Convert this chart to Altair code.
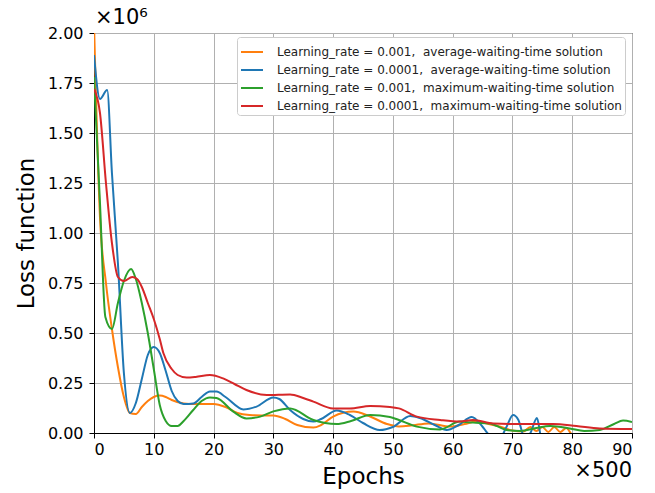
import altair as alt
import pandas as pd

series_names = [
    "Learning_rate = 0.001,\u00a0 average-waiting-time solution",
    "Learning_rate = 0.0001,\u00a0 average-waiting-time solution",
    "Learning_rate = 0.001,\u00a0 maximum-waiting-time solution",
    "Learning_rate = 0.0001,\u00a0 maximum-waiting-time solution",
]
series_colors = ["#ff7f0e", "#1f77b4", "#2ca02c", "#d62728"]

# values in units of 1e6, epochs in units of 500
orange_x = [0, 1, 2, 3, 4, 5, 6, 7, 8, 9, 10, 11, 12, 13, 15, 17, 20, 22, 24, 26, 28, 30, 32, 34, 36.7, 38, 40, 43.4,
            46, 49, 51, 53, 56, 59.6, 62, 64, 66, 68, 70, 71.8, 73, 74, 75, 76, 77, 78, 79, 80, 82, 86, 90]
orange_y = [2.05, 1.08, 0.75, 0.52, 0.33, 0.18, 0.10, 0.095, 0.13, 0.16, 0.18, 0.187, 0.18, 0.165, 0.148, 0.145,
            0.145, 0.13, 0.10, 0.09, 0.088, 0.088, 0.07, 0.04, 0.027, 0.04, 0.082, 0.107, 0.085, 0.045, 0.033, 0.037,
            0.048, 0.032, 0.045, 0.057, 0.045, 0.032, 0.012, 0.007, 0.03, 0.01, 0.03, 0.005, 0.03, 0.005, 0.025,
            -0.01, -0.03, -0.04, -0.04]

blue_x = [0, 1, 2.2, 3, 4, 5, 6, 7, 8, 9, 10, 11, 12, 13, 14, 15, 16.6, 18, 19.4, 20.5, 22, 25, 27.2, 30, 31, 32.8,
          35, 36.7, 38, 40.6, 42.8, 45, 47.8, 50, 52.9, 54.5, 57, 59, 61, 63.2, 64.9, 66.2, 68, 69, 70.1, 71, 72,
          73, 74.1, 74.8, 76, 80, 90]
blue_y = [1.89, 1.67, 1.715, 1.30, 0.85, 0.30, 0.10, 0.15, 0.27, 0.39, 0.43, 0.40, 0.31, 0.21, 0.16, 0.145, 0.148,
          0.18, 0.208, 0.207, 0.18, 0.118, 0.132, 0.178, 0.17, 0.115, 0.07, 0.057, 0.07, 0.112, 0.09, 0.05, 0.015,
          0.03, 0.085, 0.075, 0.04, 0.015, 0.04, 0.08, 0.035, -0.01, -0.02, 0.03, 0.09, 0.065, -0.02, 0.0, 0.075,
          -0.02, -0.05, -0.05, -0.05]

green_x = [0, 1, 1.9, 3, 4, 5, 6.2, 7, 8, 9, 10, 11, 12, 13, 14, 15, 16.6, 18, 19.4, 20.5, 23.3, 25.5, 27.8, 30,
           32.8, 36.7, 40.6, 43, 46.2, 49.5, 51, 54, 57.9, 61.2, 63.4, 66.2, 69, 71.3, 74, 76.3, 79.6, 82, 84.6, 87,
           88.5, 90]
green_y = [1.78, 1.15, 0.58, 0.52, 0.65, 0.76, 0.82, 0.77, 0.65, 0.50, 0.32, 0.14, 0.06, 0.035, 0.035, 0.06, 0.115,
           0.16, 0.178, 0.175, 0.107, 0.073, 0.082, 0.108, 0.123, 0.065, 0.045, 0.06, 0.09, 0.08, 0.065, 0.032,
           0.018, 0.057, 0.052, 0.048, 0.015, 0.01, 0.025, 0.035, 0.023, 0.01, 0.015, 0.045, 0.062, 0.055]

red_x = [0, 1, 2, 3, 4, 5, 6.4, 7.2, 8, 9, 10, 11, 11.6, 13, 14, 15.5, 17, 19.4, 21.6, 23.5, 25.5, 28.9, 32.8, 35,
         36.7, 40, 42.8, 46.2, 49.5, 51, 54, 57.9, 61.2, 63.4, 66.8, 71, 76.8, 80.7, 84.6, 90]
red_y = [1.72, 1.60, 1.25, 0.95, 0.78, 0.76, 0.78, 0.77, 0.73, 0.65, 0.57, 0.47, 0.40, 0.32, 0.29, 0.277, 0.28, 0.29,
         0.273, 0.245, 0.215, 0.19, 0.193, 0.175, 0.157, 0.123, 0.123, 0.135, 0.13, 0.123, 0.082, 0.065, 0.057,
         0.065, 0.048, 0.045, 0.045, 0.035, 0.023, 0.02]

y_ticks = [0, 0.25, 0.5, 0.75, 1.0, 1.25, 1.5, 1.75, 2.0]
x_ticks = [0, 10, 20, 30, 40, 50, 60, 70, 80, 90]

rows = []
for name, xs, ys in zip(series_names, [orange_x, blue_x, green_x, red_x], [orange_y, blue_y, green_y, red_y]):
    for i, (a, b) in enumerate(zip(xs, ys)):
        rows.append({"series": name, "epoch": a, "loss": b, "idx": i})
df = pd.DataFrame(rows)

FONT = "DejaVu Sans"

lines = alt.Chart(df).mark_line(clip=True, interpolate="monotone", strokeWidth=2).encode(
    x=alt.X("epoch:Q", scale=alt.Scale(domain=[0, 90], nice=False, zero=False),
            axis=alt.Axis(values=x_ticks, title="Epochs", titleFontSize=23, titleFontWeight="normal",
                          titlePadding=8, labelFontSize=16, labelPadding=3)),
    y=alt.Y("loss:Q", scale=alt.Scale(domain=[0, 2.0], nice=False),
            axis=alt.Axis(values=y_ticks, format=".2f", title="Loss function", titleFontSize=23,
                          titleFontWeight="normal", titlePadding=9, labelFontSize=16, labelPadding=6)),
    color=alt.Color("series:N", scale=alt.Scale(domain=series_names, range=series_colors),
                    sort=series_names,
                    legend=alt.Legend(title=None, orient="none", legendX=143, legendY=4,
                                      symbolType="stroke", symbolSize=484, symbolStrokeWidth=2,
                                      labelFontSize=12, labelFont=FONT, labelLimit=0, rowPadding=-3,
                                      labelColor="#222222",
                                      fillColor="white", strokeColor="#cccccc", padding=3,
                                      cornerRadius=3, labelOffset=13)),
    order=alt.Order("idx:Q"),
)

mult = alt.Chart(pd.DataFrame({"t": ["×500"]})).mark_text(
    align="right", baseline="middle", fontSize=21, font=FONT, dy=38, color="black"
).encode(x=alt.datum(90), y=alt.datum(0), text="t:N")

scale_txt = alt.Chart(pd.DataFrame({"t": ["×10⁶"]})).mark_text(
    align="left", baseline="middle", fontSize=21, font=FONT, dy=-15, dx=1, color="black"
).encode(x=alt.datum(0), y=alt.datum(2.0), text="t:N")

chart = alt.layer(lines, mult, scale_txt).properties(
    width=538, height=400,
    autosize=alt.AutoSizeParams(type="none"),
    padding={"left": 94, "top": 33, "right": 23, "bottom": 60},
).configure(font=FONT).configure_view(stroke="black", strokeWidth=1).configure_axis(
    grid=True, gridColor="#b0b0b0", gridWidth=1, domainColor="black", tickColor="black",
    tickSize=5, labelColor="black", titleColor="black", labelFont=FONT, titleFont=FONT
)

chart.save("out.html", embed_options={"renderer": "svg", "actions": False})
